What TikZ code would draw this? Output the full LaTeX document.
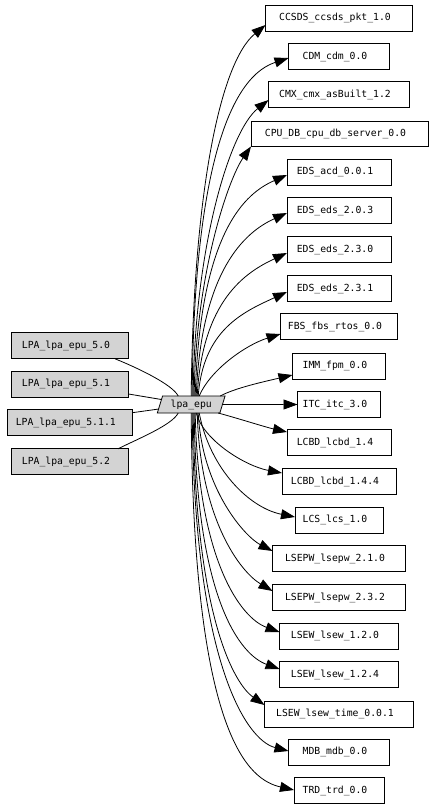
\documentclass[tikz,border=0pt]{standalone}
\usepackage{fontspec}
\newfontfamily\gvfont{DejaVu Sans Mono}
\usetikzlibrary{shapes.geometric,arrows.meta}
\definecolor{boxgray}{RGB}{211,211,211}
\begin{document}
\begin{tikzpicture}[x=1bp,y=1bp,
  every node/.style={font=\gvfont\fontsize{9.8}{11}\selectfont, inner sep=0pt, outer sep=0pt},
  tbox/.style={draw, line width=0.8bp, minimum height=26bp, execute at begin node={\kern-8bp}},
  lbox/.style={tbox, fill=boxgray},
  link/.style={line width=0.8bp, -{Triangle[length=14bp,width=10bp]}},
  plain/.style={line width=0.8bp}]
\useasboundingbox[fill=white] (0,0) rectangle (434,-808);
% centre node
\node[trapezium, trapezium left angle=69, trapezium right angle=111, trapezium stretches=true,
  minimum width=68bp, minimum height=17bp, draw, line width=0.8bp, fill=boxgray] (lpa) at (191.2,-404.5) {lpa\_epu};
% right column
\node[tbox, minimum width=147bp] (ccsds) at (339,-18) {CCSDS\_ccsds\_pkt\_1.0};
\node[tbox, minimum width=101bp] (cdm) at (339,-56.5) {CDM\_cdm\_0.0};
\node[tbox, minimum width=141bp] (cmx) at (339,-94.5) {CMX\_cmx\_asBuilt\_1.2};
\node[tbox, minimum width=177bp, minimum height=25bp] (cpu) at (339.5,-134) {CPU\_DB\_cpu\_db\_server\_0.0};
\node[tbox, minimum width=104bp] (edsacd) at (339,-172.3) {EDS\_acd\_0.0.1};
\node[tbox, minimum width=104bp] (eds203) at (339,-210.8) {EDS\_eds\_2.0.3};
\node[tbox, minimum width=104bp] (eds230) at (339,-249.8) {EDS\_eds\_2.3.0};
\node[tbox, minimum width=104bp] (eds231) at (339,-288.5) {EDS\_eds\_2.3.1};
\node[tbox, minimum width=117bp] (fbs) at (339,-326.8) {FBS\_fbs\_rtos\_0.0};
\node[tbox, minimum width=93bp] (imm) at (339,-366) {IMM\_fpm\_0.0};
\node[tbox, minimum width=83bp] (itc) at (339,-404.5) {ITC\_itc\_3.0};
\node[tbox, minimum width=104bp] (lcbda) at (339,-442.8) {LCBD\_lcbd\_1.4};
\node[tbox, minimum width=114bp] (lcbdb) at (339,-481.8) {LCBD\_lcbd\_1.4.4};
\node[tbox, minimum width=88bp] (lcs) at (339,-520.3) {LCS\_lcs\_1.0};
\node[tbox, minimum width=133bp] (lsepwa) at (339,-558.8) {LSEPW\_lsepw\_2.1.0};
\node[tbox, minimum width=133bp] (lsepwb) at (339,-597.8) {LSEPW\_lsepw\_2.3.2};
\node[tbox, minimum width=119bp] (lsewa) at (339,-636.3) {LSEW\_lsew\_1.2.0};
\node[tbox, minimum width=119bp] (lsewb) at (339,-674.7) {LSEW\_lsew\_1.2.4};
\node[tbox, minimum width=149bp] (lsewt) at (339,-714) {LSEW\_lsew\_time\_0.0.1};
\node[tbox, minimum width=101bp] (mdb) at (339,-752.3) {MDB\_mdb\_0.0};
\node[tbox, minimum width=90bp] (trd) at (339,-790.8) {TRD\_trd\_0.0};
% left column
\node[lbox, minimum width=117bp] (lpaa) at (70,-345.8) {LPA\_lpa\_epu\_5.0};
\node[lbox, minimum width=117bp] (lpab) at (70,-384.3) {LPA\_lpa\_epu\_5.1};
\node[lbox, minimum width=125bp] (lpac) at (69.8,-422.7) {LPA\_lpa\_epu\_5.1.1};
\node[lbox, minimum width=117bp] (lpad) at (70,-461.8) {LPA\_lpa\_epu\_5.2};
% incoming (no arrow heads)
\draw[plain] ([xshift=45bp]lpaa.south) .. controls +(20,-8) and +(-6,12) .. ([xshift=-13bp]lpa.north);
\draw[plain] ([yshift=-9.7bp]lpab.east) -- (lpa);
\draw[plain] ([yshift=10bp]lpac.east) -- (lpa);
\draw[plain] ([xshift=48bp]lpad.north) .. controls +(20,10) and +(-6,-12) .. ([xshift=-13bp]lpa.south);
% outgoing, upper
\draw[link] ([xshift=0bp]lpa.north) .. controls +(2,200) and +(-46,-38) .. ([yshift=-7bp]ccsds.west);
\draw[link] ([xshift=1bp]lpa.north) .. controls +(1,196) and +(-67,-22) .. ([yshift=-1.5bp]cdm.west);
\draw[link] ([xshift=2bp]lpa.north) .. controls +(1,148) and +(-39,-31) .. ([yshift=-5.5bp]cmx.west);
\draw[link] ([xshift=3bp]lpa.north) .. controls +(1,120) and +(-23,-33) .. (cpu.south west);
\draw[link] ([xshift=4bp]lpa.north) .. controls +(5,166) and +(-41,-18) .. ([yshift=-2.7bp]edsacd.west);
\draw[link] ([xshift=5bp]lpa.north) .. controls +(5,126) and +(-42,-19) .. ([yshift=-2.2bp]eds203.west);
\draw[link] ([xshift=6bp]lpa.north) .. controls +(5,96) and +(-41,-19) .. ([yshift=-3.2bp]eds230.west);
\draw[link] ([xshift=7bp]lpa.north) .. controls +(5,66) and +(-44,-20) .. ([yshift=-3.5bp]eds231.west);
\draw[link] ([xshift=8bp]lpa.north) .. controls +(11,26) and +(-35,-11) .. ([yshift=-7.2bp]fbs.west);
\draw[link] ([xshift=29bp]lpa.north) .. controls +(15,8) and +(-30,-7) .. ([yshift=-9bp]imm.west);
\draw[link] (lpa.east) -- (itc.west);
% outgoing, lower
\draw[link] ([xshift=27bp]lpa.south) .. controls +(22,-6) and +(-22,5) .. ([yshift=10.8bp]lcbda.west);
\draw[link] ([xshift=5bp]lpa.south) .. controls +(7,-27) and +(-37,7) .. ([yshift=8.8bp]lcbdb.west);
\draw[link] ([xshift=8bp]lpa.south) .. controls +(11,-57) and +(-45,9) .. ([yshift=3.3bp]lcs.west);
\draw[link] ([xshift=7bp]lpa.south) .. controls +(4,-77) and +(-27,14) .. ([yshift=7.8bp]lsepwa.west);
\draw[link] ([xshift=6bp]lpa.south) .. controls +(3,-107) and +(-32,19) .. ([yshift=6.8bp]lsepwb.west);
\draw[link] ([xshift=4bp]lpa.south) .. controls +(3,-147) and +(-39,14) .. ([yshift=4.3bp]lsewa.west);
\draw[link] ([xshift=3bp]lpa.south) .. controls +(2,-187) and +(-39,14) .. ([yshift=5.7bp]lsewb.west);
\draw[link] ([xshift=2bp]lpa.south) .. controls +(2,-207) and +(-29,20) .. ([yshift=9bp]lsewt.west);
\draw[link] ([xshift=1bp]lpa.south) .. controls +(2,-247) and +(-43,11) .. ([yshift=1.3bp]mdb.west);
\draw[link] ([xshift=0bp]lpa.south) .. controls +(2,-327) and +(-44,10) .. ([yshift=0.8bp]trd.west);
\end{tikzpicture}
\end{document}
